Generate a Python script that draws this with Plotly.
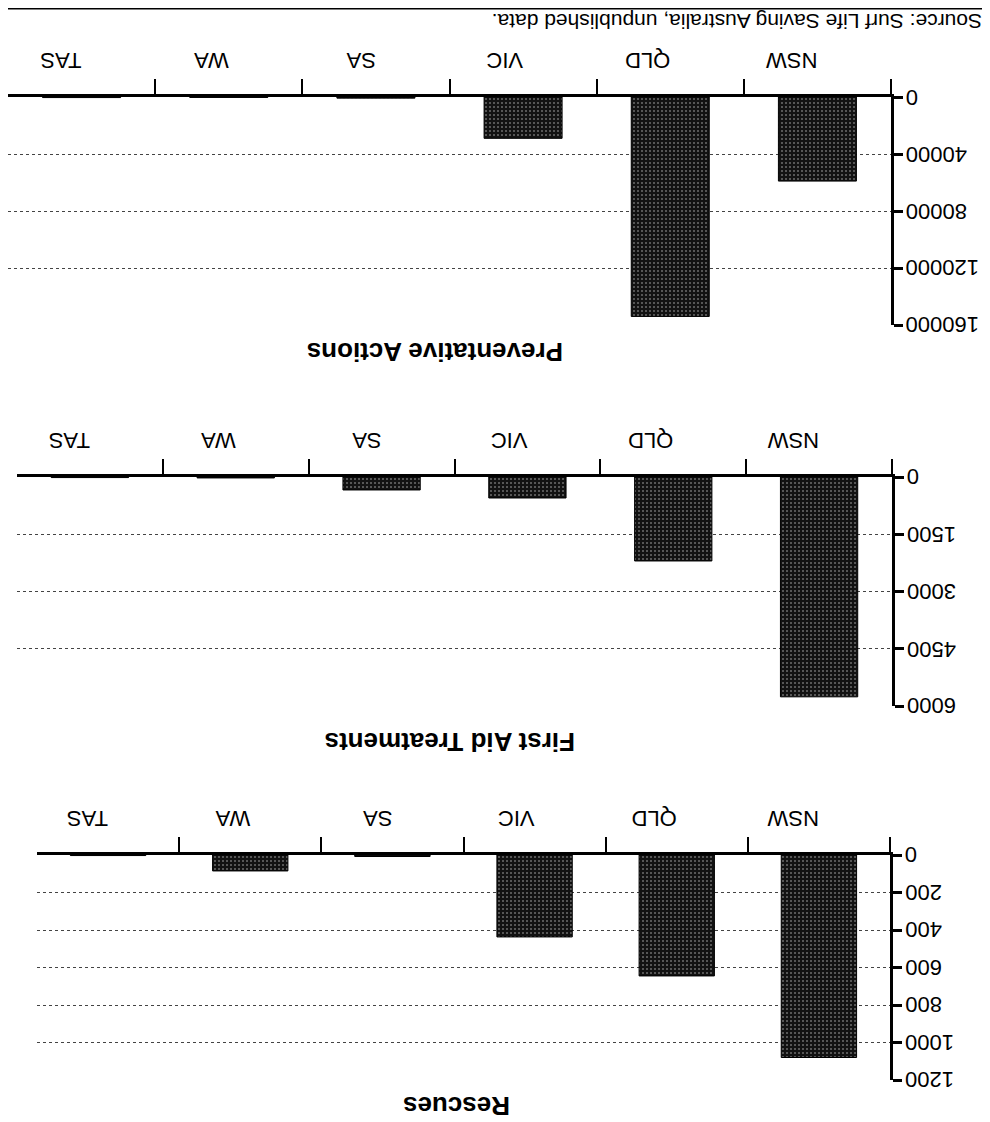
import plotly.graph_objects as go

states = ["NSW", "QLD", "VIC", "SA", "WA", "TAS"]
preventative = [59000, 154000, 29000, 800, 300, 400]
first_aid = [5760, 2200, 550, 340, 25, 15]
rescues = [1080, 645, 437, 8, 85, 3]

prev_ticks = [0, 40000, 80000, 120000, 160000]
aid_ticks = [0, 1500, 3000, 4500, 6000]
resc_ticks = [0, 200, 400, 600, 800, 1000, 1200]

titles = ["Preventative Actions", "First Aid Treatments", "Rescues"]
source = "Source: Surf Life Saving Australia, unpublished data."

# page body has an 8px default margin: size the figure to fit the window
OFF = 8
W, H = 990 - OFF, 1122 - OFF
FONT = "Liberation Sans, Arial, sans-serif"

fig = go.Figure()

# panel geometry in page pixels: (left, right, top(zero), bottom(max))
panels = [
    (5, 891, 97, 325),
    (17, 892, 477, 706),
    (37, 890, 855, 1080),
]
data = [preventative, first_aid, rescues]
ticks = [prev_ticks, aid_ticks, resc_ticks]


def px_x(v):
    return (v - OFF) / W


def px_y(v):
    return 1 - (v - OFF) / H


annotations = []
for i, ((l, r, t, b), vals, tv) in enumerate(zip(panels, data, ticks)):
    n = "" if i == 0 else str(i + 1)
    fig.add_trace(go.Bar(
        x=states, y=vals, xaxis="x" + n, yaxis="y" + n,
        width=0.53,
        marker=dict(
            color="#1a1a1a",
            line=dict(color="#000", width=1),
            pattern=dict(shape=".", bgcolor="#121212", fgcolor="#c8c8c8",
                         size=4, solidity=0.2, fillmode="overlay"),
        ),
        showlegend=False,
    ))
    xa = dict(
        domain=[max(px_x(l), 0), px_x(r)], anchor="y" + n, side="top",
        autorange="reversed", type="category", automargin=False,
        showline=True, linecolor="#000", linewidth=3,
        ticks="outside", tickson="boundaries", ticklen=15, tickwidth=1.5, tickcolor="#000",
        tickangle=180, ticklabelstandoff=10,
        tickfont=dict(family=FONT, size=22, color="#000"),
        showgrid=False, zeroline=False, fixedrange=True,
    )
    ya = dict(
        domain=[px_y(b), px_y(t)], anchor="x" + n, side="right",
        range=[tv[-1], tv[0]], tickvals=tv, showticklabels=False, automargin=False,
        showline=True, linecolor="#000", linewidth=2.5,
        ticks="outside", ticklen=9, tickwidth=2.5, tickcolor="#000",
        showgrid=True, gridcolor="#444", gridwidth=1, griddash="dot",
        zeroline=False, fixedrange=True,
    )
    fig.layout["xaxis" + n] = xa
    fig.layout["yaxis" + n] = ya
    for v in tv:
        annotations.append(dict(
            text=str(v), x=px_x(r + 13), y=v, xref="paper", yref="y" + n,
            xanchor="left", yanchor="middle", showarrow=False, textangle=180,
            font=dict(family=FONT, size=22, color="#000"),
        ))

title_pos = [(435, 352), (450, 742), (457, 1106)]
for txt, (cx, cy) in zip(titles, title_pos):
    annotations.append(dict(
        text="<b>" + txt + "</b>", x=px_x(cx), y=px_y(cy), xref="paper", yref="paper",
        xanchor="center", yanchor="middle", showarrow=False, textangle=180,
        borderpad=0, font=dict(family=FONT, size=26, color="#000"),
    ))
annotations.append(dict(
    text=source, x=px_x(737), y=px_y(22), xref="paper", yref="paper",
    xanchor="center", yanchor="middle", showarrow=False, textangle=180,
    borderpad=0, font=dict(family=FONT, size=21, color="#000"),
))

fig.update_layout(
    width=W, height=H,
    margin=dict(l=0, r=0, t=0, b=0, autoexpand=False),
    paper_bgcolor="#fff", plot_bgcolor="rgba(0,0,0,0)",
    barmode="group",
    annotations=annotations,
    shapes=[dict(type="line", xref="paper", yref="paper", x0=0, x1=1,
                 y0=1, y1=1, line=dict(color="#000", width=3))],
)

fig.write_html("out.html")
